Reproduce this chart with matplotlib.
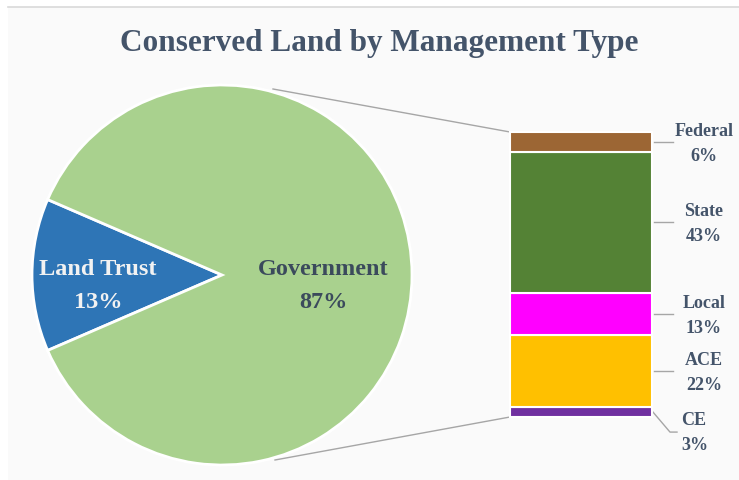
import matplotlib
matplotlib.use("Agg")
import matplotlib.pyplot as plt
import numpy as np

# ---- data ----
pie_labels = ["Land Trust", "Government"]
pie_values = [13, 87]
pie_colors = ["#2e75b6", "#a9d18e"]

bar_labels = ["Federal", "State", "Local", "ACE", "CE"]
bar_values = [6, 43, 13, 22, 3]
bar_colors = ["#9c6634", "#548235", "#ff00ff", "#ffc000", "#7030a0"]

title = "Conserved Land by Management Type"

TXT = "#44546a"
FONT = "Liberation Serif"
H = 480

fig = plt.figure(figsize=(7.39, 4.80), dpi=100)
fig.patch.set_facecolor("white")
ax = fig.add_axes([0, 0, 1, 1])

# panel background
ax.add_patch(plt.Rectangle((8, 0), 731, H - 7, facecolor="#fafafa", edgecolor="none", zorder=0))
ax.plot([8, 739], [H - 7, H - 7], color="#d9d9d9", lw=1.2, zorder=1)

# pie
cx, cy, r = 222, H - 275, 190
start = 180 - pie_values[0] * 3.6 / 2
wedges, _ = ax.pie(pie_values, colors=pie_colors, startangle=start, counterclock=True,
                   center=(cx, cy), radius=r, frame=True,
                   wedgeprops=dict(edgecolor="white", linewidth=2))
ax.set_xlim(0, 739)
ax.set_ylim(0, H)
ax.set_aspect("equal")
ax.axis("off")

ax.text(98, H - 286, "Land Trust\n13%", ha="center", va="center", fontsize=17.5,
        fontweight="bold", family=FONT, color="#f2f2f2", linespacing=1.75)
ax.text(323, H - 286, "Government\n87%", ha="center", va="center", fontsize=17.5,
        fontweight="bold", family=FONT, color="#3b4a5c", linespacing=1.75)

# stacked bar
bx0, bx1 = 510, 652
btop, bbot = H - 132, H - 417
scale = (btop - bbot) / sum(bar_values)
bottom = bbot
label_pos = {}
for lab, v, c in reversed(list(zip(bar_labels, bar_values, bar_colors))):
    ax.bar((bx0 + bx1) / 2, v * scale, width=bx1 - bx0, bottom=bottom, color=c,
           edgecolor="white", linewidth=1.5, zorder=3)
    label_pos[lab] = bottom + v * scale / 2
    bottom += v * scale

# leader lines and labels
lab_x = 704
for lab, v in zip(bar_labels, bar_values):
    ymid = label_pos[lab]
    if lab == "CE":
        ax.plot([bx1 + 1, bx1 + 18, bx1 + 25], [ymid, ymid - 20, ymid - 20], color="#a6a6a6", lw=1)
        ty = ymid - 21
        tx = 681
        ha = "left"
    else:
        ax.plot([bx1 + 2, bx1 + 21], [ymid, ymid], color="#a6a6a6", lw=1)
        ty = ymid - 2
        tx = lab_x
        ha = "center"
    ax.text(tx, ty, f"{lab}\n{v}%", ha=ha, va="center", fontsize=13, fontweight="bold",
            family=FONT, color=TXT, linespacing=1.6)

# connector lines
ax.plot([273, bx0], [H - 89, btop], color="#a6a6a6", lw=1)
ax.plot([275, bx0], [H - 460, bbot], color="#a6a6a6", lw=1)

ax.text(379, H - 43, title, ha="center", va="center", fontsize=22.5, fontweight="bold",
        family=FONT, color=TXT)

fig.savefig("out.png", dpi=100, facecolor=fig.get_facecolor())
